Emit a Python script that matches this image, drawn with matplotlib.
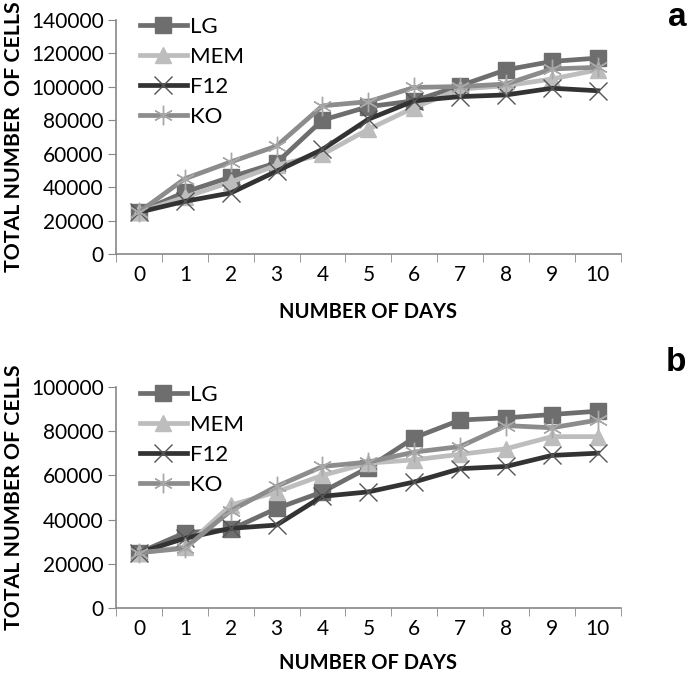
import matplotlib
matplotlib.use("Agg")
import matplotlib.pyplot as plt
import numpy as np

plt.rcParams['font.family'] = ['Lato', 'DejaVu Sans']

days = list(range(11))
day_labels = [str(d) for d in days]

# Panel a
a_LG = [25000, 37000, 46000, 54500, 80000, 88000, 91500, 100500, 110000, 115000, 117000]
a_MEM = [25000, 34000, 43000, 53000, 59500, 74500, 87500, 98500, 100500, 104500, 110000]
a_F12 = [25000, 31500, 36500, 49500, 62500, 80500, 91500, 94000, 95000, 99000, 97500]
a_KO = [25000, 45000, 55000, 64500, 88500, 91000, 99500, 100000, 101500, 110500, 111500]

# Panel b
b_LG = [25000, 34000, 35500, 45000, 52500, 63500, 77000, 85000, 86000, 87500, 89000]
b_MEM = [25000, 27500, 46500, 52500, 60000, 65500, 67000, 69500, 72000, 77500, 77500]
b_F12 = [25000, 31500, 36000, 37500, 50500, 52500, 57000, 63000, 64000, 69000, 70000]
b_KO = [25000, 27000, 44000, 55000, 64000, 66000, 70500, 73000, 82500, 81500, 85000]

series_names = ['LG', 'MEM', 'F12', 'KO']
styles = {
    'LG': dict(color='#6e6e6e', marker='s', markersize=12, markerfacecolor='#6e6e6e', markeredgecolor='#6e6e6e'),
    'MEM': dict(color='#bdbdbd', marker='^', markersize=12, markerfacecolor='#bdbdbd', markeredgecolor='#bdbdbd'),
    'F12': dict(color='#333333', marker='x', markersize=13, markeredgewidth=1.0, markeredgecolor='#555555'),
    'KO': dict(color='#8c8c8c', marker=(6, 2, 0), markersize=14, markeredgewidth=1.0, markeredgecolor='#a8a8a8'),
}

W, H = 699, 674
fig = plt.figure(figsize=(W / 100, H / 100), dpi=100)

def draw(ax, data, ymax, step, ylabel, letter, letter_y, xlabelpad):
    for name, vals in zip(series_names, data):
        ax.plot(days, vals, label=name, linewidth=3.4, **styles[name])
    ax.set_xlim(-0.5, 10.5)
    ax.set_ylim(0, ymax)
    yt = np.arange(0, ymax + 1, step)
    ax.set_yticks(yt)
    ax.set_yticklabels([str(int(v)) for v in yt], fontsize=15)
    ax.set_xticks(days)
    ax.set_xticklabels(day_labels, fontsize=15)
    ax.tick_params(axis='x', length=0, pad=8)
    ax.set_xticks(np.arange(-0.5, 11, 1), minor=True)
    ax.tick_params(axis='x', which='minor', length=6, color='#888888', direction='out')
    ax.tick_params(axis='y', length=6, color='#888888', direction='out', pad=3)
    for s in ['top', 'right']:
        ax.spines[s].set_visible(False)
    for s in ['left', 'bottom']:
        ax.spines[s].set_color('#888888')
        ax.spines[s].set_linewidth(1.2)
    ax.set_xlabel('NUMBER OF DAYS', fontsize=14.5, fontweight='bold', labelpad=xlabelpad)
    ax.set_ylabel(ylabel, fontsize=15.3, fontweight='bold', va='center')
    pos = ax.get_position()
    # place ylabel centre at x = 14 px in figure coordinates
    xl = (14 / W - pos.x0) / pos.width
    ax.yaxis.set_label_coords(xl, 0.5)
    ax.legend(loc='upper left', frameon=False, fontsize=16, handlelength=2.1,
              handletextpad=0.15, labelspacing=0.45, borderaxespad=0.0,
              bbox_to_anchor=(0.03, 1.05))
    fig.text(0.982, letter_y, letter, fontsize=24, fontweight='bold', ha='right',
             va='baseline', family='Liberation Sans')

ax1 = fig.add_axes([0.166, 0.623, 0.722, 0.348])
draw(ax1, [a_LG, a_MEM, a_F12, a_KO], 140000, 20000, 'TOTAL NUMBER  OF CELLS', 'a', 0.961, 12)
ax2 = fig.add_axes([0.166, 0.098, 0.722, 0.328])
draw(ax2, [b_LG, b_MEM, b_F12, b_KO], 100000, 20000, 'TOTAL NUMBER OF CELLS', 'b', 0.45, 10)

fig.savefig('out.png', dpi=100)
